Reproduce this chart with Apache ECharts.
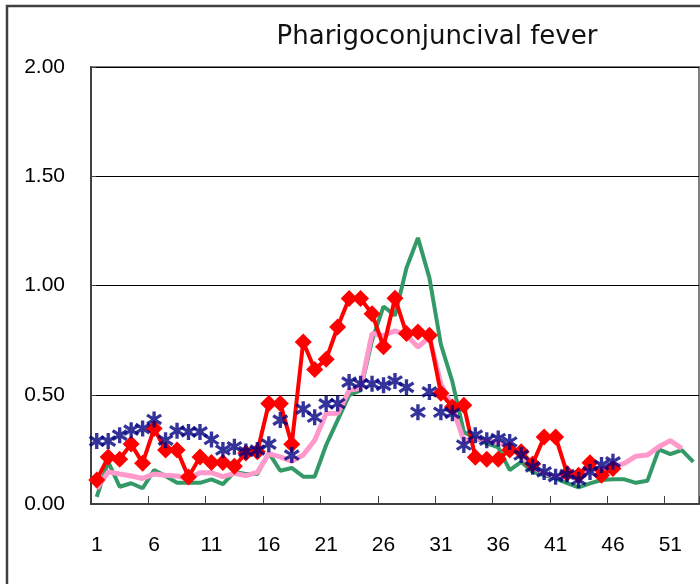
<!DOCTYPE html>
<html>
<head>
<meta charset="utf-8">
<script src="https://cdn.jsdelivr.net/npm/echarts@6/dist/echarts.min.js"></script>
<style>
  html, body { margin: 0; padding: 0; background: #fff; }
  #chart { width: 700px; height: 584px; }
</style>
</head>
<body>
<div id="chart"></div>
<script>
var titleText = 'Pharigoconjuncival fever';
var weeks = ['1','2','3','4','5','6','7','8','9','10','11','12','13','14','15','16','17','18','19','20',
  '21','22','23','24','25','26','27','28','29','30','31','32','33','34','35','36','37','38','39','40',
  '41','42','43','44','45','46','47','48','49','50','51','52','53'];
var yTicks = [0, 0.5, 1.0, 1.5, 2.0];

var greenSeries = [0.033, 0.193, 0.079, 0.095, 0.072, 0.155, 0.128, 0.097, 0.097, 0.097,
  0.113, 0.091, 0.147, 0.137, 0.137, 0.234, 0.152, 0.165, 0.125, 0.125,
  0.27, 0.384, 0.498, 0.52, 0.749, 0.904, 0.863, 1.08, 1.218, 1.035,
  0.73, 0.56, 0.33, 0.30, 0.277, 0.259, 0.155, 0.193, 0.147, 0.132,
  0.117, 0.095, 0.076, 0.094, 0.11, 0.113, 0.113, 0.097, 0.106, 0.25,
  0.228, 0.247, 0.193];

var pinkSeries = [0.07, 0.147, 0.137, 0.128, 0.117, 0.137, 0.132, 0.128, 0.117, 0.143,
  0.143, 0.125, 0.14, 0.13, 0.145, 0.23, 0.216, 0.196, 0.224, 0.292,
  0.414, 0.415, 0.52, 0.53, 0.78, 0.77, 0.793, 0.772, 0.718, 0.764,
  0.55, 0.444, 0.29, 0.30, 0.29, 0.28, 0.26, 0.224, 0.17, 0.14,
  0.125, 0.132, 0.13, 0.155, 0.163, 0.17, 0.186, 0.219, 0.224, 0.262,
  0.29, 0.254];

var redSeries = [0.11, 0.215, 0.205, 0.275, 0.187, 0.345, 0.247, 0.247, 0.123, 0.215,
  0.19, 0.19, 0.173, 0.233, 0.239, 0.46, 0.46, 0.274, 0.741, 0.616,
  0.662, 0.81, 0.94, 0.94, 0.871, 0.72, 0.942, 0.78, 0.787, 0.772,
  0.507, 0.444, 0.452, 0.214, 0.205, 0.205, 0.247, 0.239, 0.183, 0.307,
  0.307, 0.14, 0.132, 0.189, 0.132, 0.163];

var navySeries = [0.288, 0.288, 0.315, 0.338, 0.345, 0.387, 0.292, 0.335, 0.33, 0.33,
  0.295, 0.247, 0.262, 0.24, 0.247, 0.274, 0.384, 0.224, 0.434, 0.397,
  0.458, 0.46, 0.558, 0.55, 0.55, 0.543, 0.563, 0.534, 0.42, 0.513,
  0.42, 0.415, 0.27, 0.315, 0.292, 0.30, 0.284, 0.224, 0.17, 0.147,
  0.125, 0.135, 0.11, 0.147, 0.178, 0.193];

var asterisk = 'path://M40,0 L60,0 L60,100 L40,100 Z ' +
  'M13.5,13.7 L97.5,69.7 L86.5,86.3 L2.5,30.3 Z ' +
  'M13.5,86.3 L2.5,69.7 L86.5,13.7 L97.5,30.3 Z';

var chart = echarts.init(document.getElementById('chart'), null, { renderer: 'canvas' });
var labelFont = { fontFamily: 'Liberation Sans', fontSize: 21, color: '#000' };

chart.setOption({
  animation: false,
  backgroundColor: '#fff',
  graphic: [{
    type: 'rect', z: -10, silent: true,
    shape: { x: 7, y: 6, width: 760, height: 640 },
    style: { fill: 'none', stroke: '#404040', lineWidth: 2.5 }
  }],
  title: {
    text: titleText,
    left: 432, top: 19, textAlign: 'center',
    textStyle: { fontFamily: 'DejaVu Sans', fontSize: 26, fontWeight: 'normal', color: '#111' }
  },
  grid: {
    left: 91, right: 1, top: 67, bottom: 80,
    show: true, borderColor: '#808080', borderWidth: 2, backgroundColor: '#fff'
  },
  xAxis: {
    type: 'category',
    data: weeks,
    boundaryGap: true,
    axisLine: { show: true, lineStyle: { color: '#404040', width: 2 } },
    axisTick: { show: true, inside: true, length: 8, interval: 4, alignWithLabel: false,
      lineStyle: { color: '#404040', width: 1 } },
    axisLabel: Object.assign({ interval: 4, margin: 31 }, labelFont),
    splitLine: { show: false }
  },
  yAxis: {
    type: 'value',
    min: yTicks[0], max: yTicks[yTicks.length - 1], interval: 0.5,
    axisLine: { show: true, lineStyle: { color: '#404040', width: 2 } },
    axisTick: { show: true, inside: true, length: 5, lineStyle: { color: '#404040' } },
    axisLabel: Object.assign({ margin: 26, formatter: function (v) { return v.toFixed(2); } }, labelFont),
    splitLine: { show: true, lineStyle: { color: '#000', width: 1 } }
  },
  series: [
    {
      name: 'green', type: 'line', data: greenSeries, symbol: 'none', z: 2,
      lineStyle: { color: '#339966', width: 4 }
    },
    {
      name: 'pink', type: 'line', data: pinkSeries, symbol: 'none', z: 3,
      lineStyle: { color: '#FF99CC', width: 5 }
    },
    {
      name: 'red', type: 'line', data: redSeries, z: 4,
      symbol: 'diamond', symbolSize: 17, showAllSymbol: true,
      itemStyle: { color: '#FF0000' },
      lineStyle: { color: '#FF0000', width: 4 }
    },
    {
      name: 'navy', type: 'scatter', data: navySeries, z: 5,
      symbol: asterisk, symbolSize: 16,
      itemStyle: { color: '#000080' }
    }
  ]
});
</script>
</body>
</html>
